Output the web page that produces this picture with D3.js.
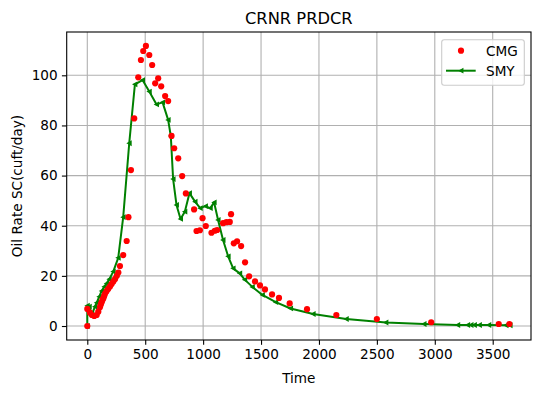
<!DOCTYPE html>
<html><head><meta charset="utf-8">
<script src="https://cdn.jsdelivr.net/npm/d3@7"></script>
<style>body{margin:0;background:#fff}text{font-family:"DejaVu Sans",sans-serif}</style>
</head><body><svg id="c" width="540" height="393"></svg>
<script>
const titleText = "CRNR PRDCR";
const xLabel = "Time";
const yLabel = "Oil Rate SC(cuft/day)";
const xTicks = [0,500,1000,1500,2000,2500,3000,3500];
const yTicks = [0,20,40,60,80,100];
const seriesNames = ["CMG","SMY"];

const cmgTime = [0,0,23,40,60,81,95,109,117,124,131,138,145,152,165,180,196,210,225,240,255,268,282,310,340,355,377,405,440,463,483,506,535,560,586,612,638,672,698,727,750,785,819,851,922,943,972,995,1023,1072,1101,1121,1172,1201,1230,1241,1265,1293,1328,1362,1397,1448,1491,1534,1595,1655,1747,1897,2150,2500,2969,3552,3644];
const cmgRate = [0,6.8,5.3,4.4,4,4.4,5.7,7.5,8.6,9.5,10.4,11,11.9,12.8,13.8,14.8,15.8,16.8,17.8,18.8,20,21.3,23.9,28.3,33.9,43.4,62.2,82.8,99.2,106.1,109.7,111.7,108.1,104.1,96.8,98.8,95.6,91.7,89.7,75.8,70.9,66.9,59.8,52.9,46.5,37.9,38.2,43,39.9,37.2,38,38.3,41,41.4,41.5,44.6,33,33.8,31.9,25.4,19.8,17.8,16.2,14.6,12.6,11.2,9,6.7,4.4,2.8,1.5,0.8,0.8];

const smyTime = [0,0,17,40,66,81,103,124,147,167,190,224,267,310,362,411,477,535,598,650,698,721,741,770,805,842,882,930,975,1020,1062,1095,1129,1172,1216,1259,1316,1359,1425,1512,1627,1755,1950,2236,2578,2907,3198,3284,3313,3342,3385,3466,3615,3650];
const smyRate = [0,8.1,7.7,4.6,7.7,9.3,11.7,14,15.7,17,18.7,21.7,27.2,43.4,72.9,96.4,98.1,93.5,88.4,89.2,82.2,75.8,58.6,48.3,42.7,45.6,53,49.6,47,47.8,47,49.3,42.3,34.3,27.8,23,21,18.5,15.6,12.4,9.5,7,4.8,2.8,1.4,0.8,0.4,0.4,0.4,0.4,0.4,0.4,0.3,0.3];

const cmg = cmgTime.map((t,i)=>({t, v:cmgRate[i]}));
const smy = smyTime.map((t,i)=>({t, v:smyRate[i]}));

const svg = d3.select("#c");
const L=66.7, R=531, T=32, B=340;
const x = d3.scaleLinear().domain([-177.8, 3830.6]).range([L,R]);
const y = d3.scaleLinear().domain([-5.58, 117.27]).range([B,T]);
const FS = "13.6px";

// grid
const g = svg.append("g");
g.selectAll(".gx").data(xTicks).join("line")
  .attr("x1",d=>x(d)).attr("x2",d=>x(d)).attr("y1",T).attr("y2",B)
  .attr("stroke","#b0b0b0").attr("stroke-width",1.1);
g.selectAll(".gy").data(yTicks).join("line")
  .attr("y1",d=>y(d)).attr("y2",d=>y(d)).attr("x1",L).attr("x2",R)
  .attr("stroke","#b0b0b0").attr("stroke-width",1.1);

// axes
const xAxis = d3.axisBottom(x).tickValues(xTicks).tickSize(4.8).tickPadding(4.3).tickFormat(d3.format("d"));
const yAxis = d3.axisLeft(y).tickValues(yTicks).tickSize(4.8).tickPadding(4.3).tickFormat(d3.format("d"));
const ax = svg.append("g").attr("transform",`translate(0,${B})`).call(xAxis);
const ay = svg.append("g").attr("transform",`translate(${L},0)`).call(yAxis);
[ax,ay].forEach(a=>{
  a.select(".domain").remove();
  a.selectAll("line").attr("stroke","#000").attr("stroke-width",1.1);
  a.selectAll("text").attr("fill","#000").style("font-size",FS).style("font-family","DejaVu Sans");
});

// clip
svg.append("clipPath").attr("id","clip").append("rect").attr("x",L).attr("y",T).attr("width",R-L).attr("height",B-T);
const plot = svg.append("g").attr("clip-path","url(#clip)");

// SMY line
plot.append("path").datum(smy)
  .attr("d", d3.line().x(d=>x(d.t)).y(d=>y(d.v)))
  .attr("fill","none").attr("stroke","#008000").attr("stroke-width",2).attr("stroke-linejoin","round");
const tri = (cx,cy,s)=>`M${cx-s},${cy}L${cx+s*0.85},${cy-s}L${cx+s*0.85},${cy+s}Z`;
plot.selectAll(".sm").data(smy).join("path")
  .attr("d",d=>tri(x(d.t),y(d.v),2.9)).attr("fill","#008000");

// CMG dots
plot.selectAll(".cm").data(cmg).join("circle")
  .attr("cx",d=>x(d.t)).attr("cy",d=>y(d.v)).attr("r",3.1).attr("fill","#ff0000");

// spines
svg.append("rect").attr("x",L).attr("y",T).attr("width",R-L).attr("height",B-T)
  .attr("fill","none").attr("stroke","#000").attr("stroke-width",1.1);

// title & labels
svg.append("text").attr("x",(L+R)/2).attr("y",24).attr("text-anchor","middle")
  .style("font-size","16.3px").text(titleText);
svg.append("text").attr("x",(L+R)/2).attr("y",383).attr("text-anchor","middle")
  .style("font-size",FS).text(xLabel);
svg.append("text").attr("transform",`translate(22,${(T+B)/2}) rotate(-90)`).attr("text-anchor","middle")
  .style("font-size",FS).text(yLabel);

// legend
const lg = svg.append("g");
lg.append("rect").attr("x",441.7).attr("y",39.7).attr("width",82.6).attr("height",45.6).attr("rx",2.5)
  .attr("fill","#fff").attr("fill-opacity",0.8).attr("stroke","#cccccc").attr("stroke-width",1.1);
lg.append("circle").attr("cx",461).attr("cy",50.7).attr("r",3.1).attr("fill","#ff0000");
lg.append("line").attr("x1",446).attr("x2",475.7).attr("y1",70.7).attr("y2",70.7).attr("stroke","#008000").attr("stroke-width",2);
lg.append("path").attr("d",tri(461,70.7,2.9)).attr("fill","#008000");
lg.append("text").attr("x",486).attr("y",56.3).style("font-size",FS).text(seriesNames[0]);
lg.append("text").attr("x",486).attr("y",76.3).style("font-size",FS).text(seriesNames[1]);
</script></body></html>
